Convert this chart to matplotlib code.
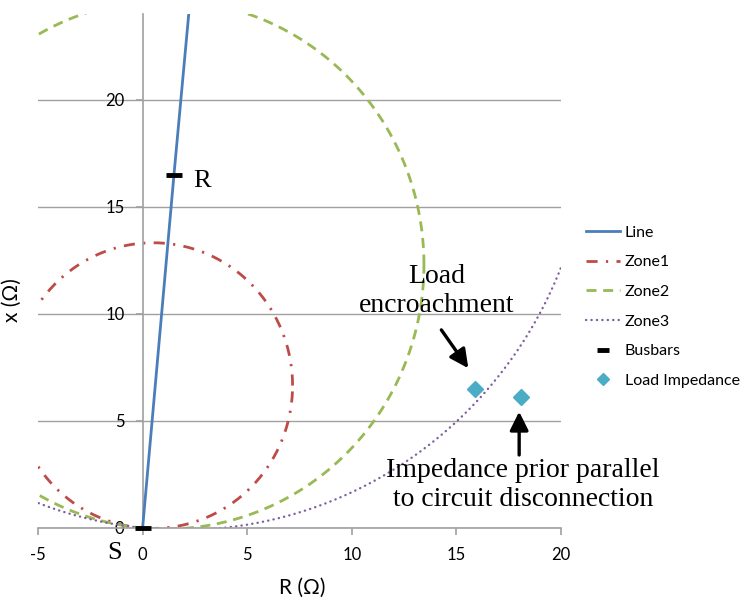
import numpy as np
import matplotlib
matplotlib.use("Agg")
import matplotlib.pyplot as plt

plt.rcParams['axes.unicode_minus'] = False

# Mho zone circles (centre R, centre X, radius) - all pass through origin
zone1_centre = [0.5, 6.65]
zone2_centre = [1.1, 12.3]
zone3_centre = [1.9, 19.4]

# Protected line from busbar S to busbar R and beyond
line_r = [0.0, 1.5, 2.3]
line_x = [0.0, 16.5, 25.0]

# Busbars S and R
bus_r = [0.0, 1.5]
bus_x = [0.0, 16.5]

# Load impedance points
load_r = [15.9, 18.1]
load_x = [6.5, 6.1]

ticks_x = [-5, 0, 5, 10, 15, 20]
ticks_y = [0, 5, 10, 15, 20]

c_line = '#4A7EBB'
c_z1 = '#BE4B48'
c_z2 = '#98B954'
c_z3 = '#7D60A0'
c_load = '#4BACC6'

tick_font = 'Lato'
note_font = 'Liberation Serif'


def circle(centre):
    a, b = centre
    r = np.hypot(a, b)
    t = np.linspace(0, 2 * np.pi, 721)
    return a + r * np.cos(t), b + r * np.sin(t)


fig = plt.figure(figsize=(7.51, 6.0), dpi=100)
ax = fig.add_axes([38 / 751, 72 / 600, 523 / 751, 514 / 600])

ax.plot(line_r, line_x, color=c_line, lw=2.0, label='Line', zorder=3)

r1, x1 = circle(zone1_centre)
ax.plot(r1, x1, color=c_z1, lw=2.0, linestyle=(0, (4, 3, 0.8, 3)), label='Zone1')
r2, x2 = circle(zone2_centre)
ax.plot(r2, x2, color=c_z2, lw=2.0, linestyle=(0, (3.6, 2.4)), label='Zone2')
r3, x3 = circle(zone3_centre)
ax.plot(r3, x3, color=c_z3, lw=1.7, linestyle=(0, (0.1, 2.2)),
        dash_capstyle='round', label='Zone3')

ax.plot(bus_r, bus_x, linestyle='none', marker='_', markersize=11,
        markeredgewidth=3.5, color='black', label='Busbars', zorder=5,
        clip_on=False)
ax.plot(load_r, load_x, linestyle='none', marker='D', markersize=8,
        color=c_load, label='Load Impedance', zorder=5)

ax.set_xlim(-5, 20)
ax.set_ylim(0, 24)

# Excel style axes: y axis crosses at R = 0
ax.spines['left'].set_position(('data', 0))
ax.spines['right'].set_visible(False)
ax.spines['top'].set_visible(False)
for s in ('left', 'bottom'):
    ax.spines[s].set_color('#A0A0A0')
    ax.spines[s].set_linewidth(1.2)
ax.set_xticks(ticks_x)
ax.set_yticks(ticks_y)
ax.tick_params(axis='both', direction='out', length=5, width=1.2,
               color='#A0A0A0', labelsize=12)
ax.tick_params(axis='y', pad=8)
ax.tick_params(axis='x', pad=9)
for lab in ax.get_xticklabels() + ax.get_yticklabels():
    lab.set_fontfamily(tick_font)
ax.grid(axis='y', color='#A0A0A0', lw=1.0)
ax.set_axisbelow(True)

ax.set_xlabel('R (Ω)', fontsize=15, fontfamily=tick_font)
ax.set_ylabel('x (Ω)', fontsize=15, fontfamily=tick_font)
ax.xaxis.set_label_coords(0.505, -0.097)
ax.yaxis.set_label_coords(-0.03, 0.444)

# Busbar labels
ax.text(2.85, 16.2, 'R', fontsize=19, fontfamily=note_font,
        ha='center', va='center')
ax.text(-1.34, -1.17, 'S', fontsize=19, fontfamily=note_font,
        ha='center', va='center', clip_on=False)

# Annotations
arrow = dict(arrowstyle='-|>', lw=2.4, color='black', mutation_scale=28,
             shrinkA=0, shrinkB=0)
ax.text(14.07, 11.07, 'Load\nencroachment', fontsize=20,
        fontfamily=note_font, ha='center', va='center', linespacing=1.2)
ax.annotate('', xy=(15.57, 7.46), xytext=(14.28, 9.25), arrowprops=arrow)
ax.text(18.18, 2.0, 'Impedance prior parallel\nto circuit disconnection',
        fontsize=20, fontfamily=note_font, ha='center', va='center',
        linespacing=1.2)
ax.annotate('', xy=(18.0, 5.43), xytext=(18.0, 3.41), arrowprops=arrow)

leg = fig.legend(loc='upper left', bbox_to_anchor=(580 / 751, 1 - 219 / 600),
                 frameon=False, fontsize=11.5, handlelength=2.1,
                 handletextpad=0.3, labelspacing=0.97, borderaxespad=0,
                 markerscale=0.75)
for t in leg.get_texts():
    t.set_fontfamily(tick_font)

fig.savefig('out.png', dpi=100)
